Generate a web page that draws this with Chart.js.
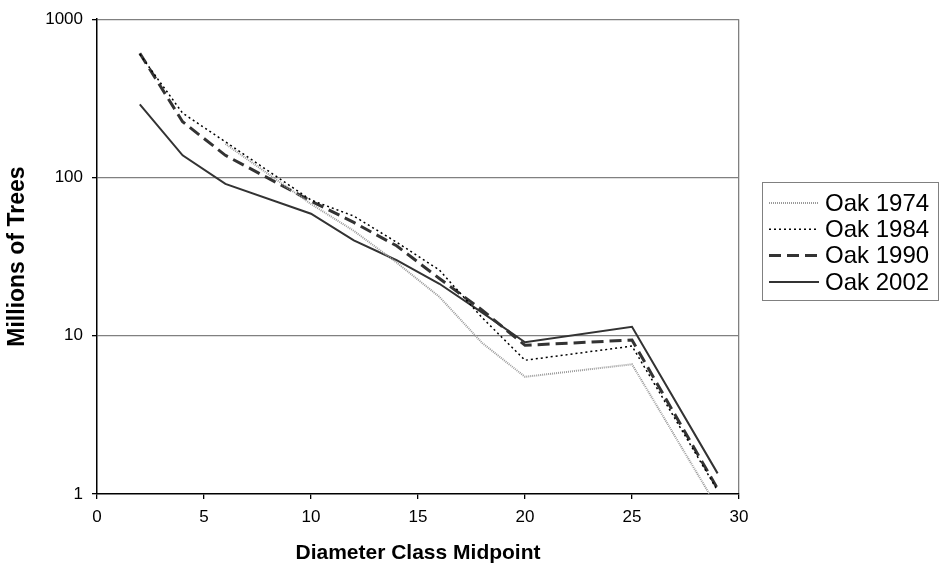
<!DOCTYPE html>
<html>
<head>
<meta charset="utf-8">
<script src="https://cdn.jsdelivr.net/npm/chart.js@4"></script>
<style>
  body { margin: 0; background: #fff; }
  canvas { display: block; }
</style>
</head>
<body>
<canvas id="oakChart" width="940" height="568"></canvas>
<script>
const diameters = [2, 4, 6, 10, 12, 14, 16, 18, 20, 25, 29];
const oak1974 = [null, null, 163, 68, 46, 29, 17.6, 9, 5.5, 6.6, 0.82];
const oak1984 = [600, 255, 168, 72, 57, 39, 26, 13, 7.0, 8.6, 1.05];
const oak1990 = [610, 225, 138, 71, 52, 37, 23, 14.5, 8.7, 9.4, 1.08];
const oak2002 = [290, 138, 91, 59, 40, 30, 21.3, 14, 9.1, 11.4, 1.35];
const yTicks = [1, 10, 100, 1000];

const FONT = "'Liberation Sans', Arial, sans-serif";

function points(values) {
  return diameters.map((d, i) => ({ x: d, y: values[i] }));
}

// legend drawn as a framed box like the original
const boxLegend = {
  id: 'boxLegend',
  afterDraw(chart) {
    const c = chart.ctx;
    const left = 762, top = 182, right = 938, bottom = 300;
    c.save();
    c.strokeStyle = '#808080';
    c.lineWidth = 1;
    c.setLineDash([]);
    c.strokeRect(left + 0.5, top + 0.5, right - left, bottom - top);
    chart.data.datasets.forEach((ds, i) => {
      const y = 203 + i * 26.3;
      c.strokeStyle = ds.borderColor;
      c.lineWidth = ds.borderWidth;
      c.setLineDash(ds.borderDash || []);
      c.beginPath();
      c.moveTo(769, y);
      c.lineTo(819, y);
      c.stroke();
      c.setLineDash([]);
      c.fillStyle = '#000';
      c.font = '24px ' + FONT;
      c.textBaseline = 'middle';
      c.fillText(ds.label, 825, y + 1);
    });
    c.restore();
  }
};

const ctx = document.getElementById('oakChart').getContext('2d');

new Chart(ctx, {
  type: 'line',
  data: {
    datasets: [{
      label: 'Oak 1974',
      data: points(oak1974),
      borderColor: '#9a9a9a',
      borderWidth: 2,
      borderDash: [1, 1]
    }, {
      label: 'Oak 1984',
      data: points(oak1984),
      borderColor: '#000',
      borderWidth: 1.5,
      borderDash: [2, 3]
    }, {
      label: 'Oak 1990',
      data: points(oak1990),
      borderColor: '#333',
      borderWidth: 3,
      borderDash: [12, 6]
    }, {
      label: 'Oak 2002',
      data: points(oak2002),
      borderColor: '#333',
      borderWidth: 2
    }]
  },
  options: {
    responsive: false,
    animation: false,
    devicePixelRatio: 1,
    elements: {
      point: { radius: 0, hoverRadius: 0 },
      line: { tension: 0, fill: false }
    },
    layout: { padding: { left: 0, right: 201, top: 15, bottom: 0 } },
    plugins: {
      legend: { display: false },
      tooltip: { enabled: false }
    },
    scales: {
      x: {
        type: 'linear',
        min: 0,
        max: 30,
        afterFit(s) { s.height = 74; },
        ticks: {
          stepSize: 5,
          padding: 8,
          color: '#000',
          font: { family: FONT, size: 17 }
        },
        grid: {
          color: (c) => (c.tick && c.tick.value === 30 ? '#808080' : 'rgba(0,0,0,0)'),
          lineWidth: 1.3,
          tickColor: '#000',
          tickLength: 5
        },
        border: { color: '#000', width: 1.5 },
        title: {
          display: true,
          text: 'Diameter Class Midpoint',
          color: '#000',
          font: { family: FONT, size: 21, weight: 'bold' },
          padding: { top: 2, bottom: 2 }
        }
      },
      y: {
        type: 'logarithmic',
        min: 1,
        max: 1000,
        afterFit(s) { s.width = 97; },
        afterBuildTicks(s) {
          s.ticks = yTicks.map(v => ({ value: v }));
        },
        ticks: {
          padding: 9,
          color: '#000',
          font: { family: FONT, size: 17 },
          callback: (v) => String(v)
        },
        grid: {
          color: (c) => (c.tick && c.tick.value === 1 ? 'rgba(0,0,0,0)' : '#808080'),
          lineWidth: 1.3,
          tickColor: '#000',
          tickLength: 5
        },
        border: { color: '#000', width: 1.5 },
        title: {
          display: true,
          text: 'Millions of Trees',
          color: '#000',
          font: { family: FONT, size: 23, weight: 'bold' },
          padding: { top: 4, bottom: 0 }
        }
      }
    }
  },
  plugins: [boxLegend]
});
</script>
</body>
</html>
